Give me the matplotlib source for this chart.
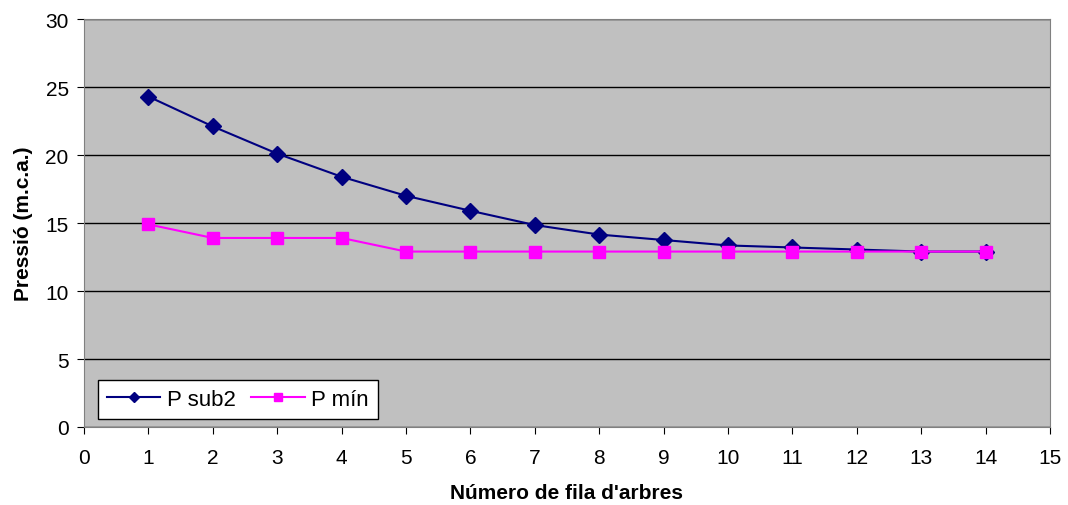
import matplotlib.pyplot as plt

plt.rcParams['font.family'] = ['Liberation Sans', 'DejaVu Sans']

files = list(range(1, 15))
p_sub2 = [24.3, 22.1, 20.1, 18.4, 17.0, 15.9, 14.85, 14.15, 13.75, 13.35, 13.2, 13.05, 12.9, 12.9]
p_min = [14.9, 13.9, 13.9, 13.9, 12.9, 12.9, 12.9, 12.9, 12.9, 12.9, 12.9, 12.9, 12.9, 12.9]

fig = plt.figure(figsize=(10.68, 5.06), dpi=100)
ax = fig.add_axes([84 / 1068, 1 - 428 / 506, (1050 - 84) / 1068, (428 - 20) / 506])
ax.set_facecolor('#C0C0C0')

ax.plot(files, p_sub2, color='#000080', marker='D', markersize=8, linewidth=1.5, label='P sub2')
ax.plot(files, p_min, color='#FF00FF', marker='s', markersize=8, linewidth=1.5, label='P mín')

ax.set_xlim(0, 15)
ax.set_ylim(0, 30)
ax.set_xticks(range(0, 16))
ax.set_yticks(range(0, 31, 5))
ax.yaxis.grid(True, color='black', linewidth=1)
ax.set_axisbelow(True)
for s in ax.spines.values():
    s.set_color('#808080')
ax.tick_params(labelsize=15, length=5, color='black')
ax.tick_params(axis='x', pad=10)
ax.tick_params(axis='y', pad=6)

ax.set_xlabel("Número de fila d'arbres", fontsize=15, fontweight='bold', labelpad=12)
ax.set_ylabel('Pressió (m.c.a.)', fontsize=15, fontweight='bold', labelpad=9)

leg = ax.legend(loc='lower left', ncol=2, fontsize=16, frameon=True, fancybox=False,
                edgecolor='black', framealpha=1, borderaxespad=0, handlelength=2.4,
                columnspacing=0.7, handletextpad=0.3, markerscale=0.7,
                bbox_to_anchor=(0.0145, 0.0196))
leg.get_frame().set_linewidth(1)

fig.savefig('out.png', dpi=100)
